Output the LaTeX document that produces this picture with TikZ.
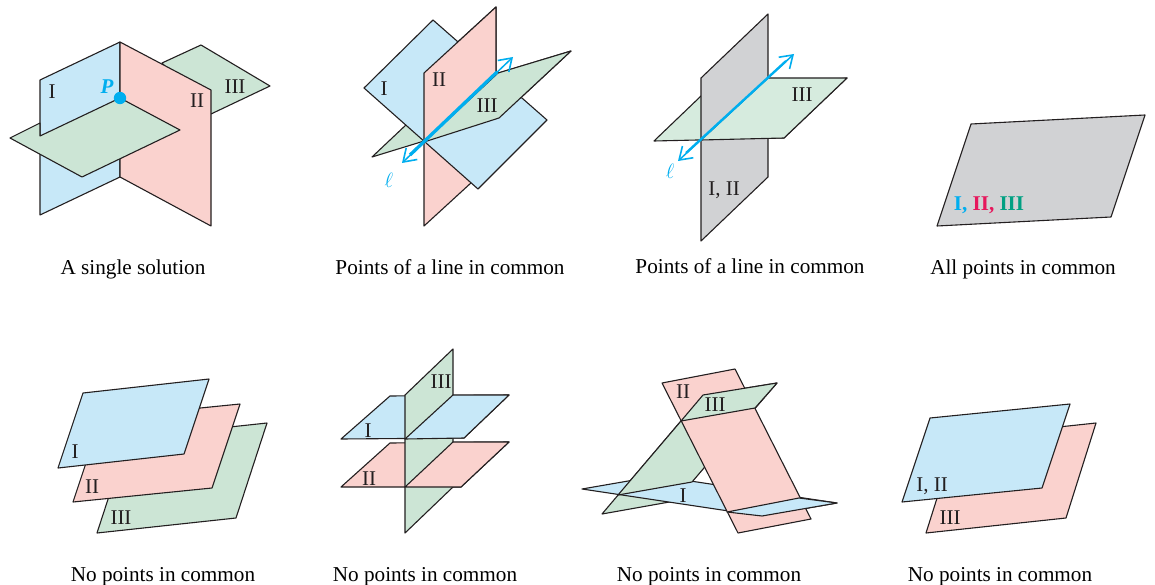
\documentclass[tikz,border=0pt]{standalone}
\usepackage{fontspec}
\setmainfont{Liberation Serif}
\usetikzlibrary{arrows.meta}
\definecolor{pblue}{HTML}{C7E8F8}
\definecolor{pred}{HTML}{FAD2CE}
\definecolor{pgreen}{HTML}{CCE5D5}
\definecolor{plgreen}{HTML}{D6EBDE}
\definecolor{pgray}{HTML}{D1D2D4}
\definecolor{pcyan}{HTML}{00AEEF}
\definecolor{pmag}{HTML}{E6175C}
\definecolor{pteal}{HTML}{00A082}
\definecolor{ink}{HTML}{231F20}
\tikzset{
  plane/.style={draw=ink,line width=1.1pt,line join=round},
  lab/.style={text=ink,font=\fontsize{21}{23}\selectfont,inner sep=0pt},
  captext/.style={text=black,font=\fontsize{21.2}{23}\selectfont,inner sep=0pt},
  elltext/.style={text=pcyan,font=\fontsize{21}{23}\selectfont,inner sep=0pt},
  barbs/.style={draw=pcyan,line width=1.5pt,{Straight Barb[length=12pt,width=16pt,line width=1.6pt]}-{Straight Barb[length=12pt,width=16pt,line width=1.6pt]}},
  thickl/.style={draw=pcyan,line width=3.3pt},
  thickm/.style={draw=pcyan,line width=2.3pt}
}
\begin{document}
\begin{tikzpicture}[x=1pt,y=-1pt]
\useasboundingbox (0,0) rectangle (1155,585);
\fill[white] (0,0) rectangle (1155,585);
% --- top 1
\filldraw[plane,fill=pgreen] (162,63)--(201,45)--(270,86)--(211,114)--cycle;
\filldraw[plane,fill=pblue] (40,80)--(120,42)--(120,177)--(40,215)--cycle;
\filldraw[plane,fill=pred] (120,42)--(211,90)--(211,226)--(120,177)--cycle;
\filldraw[plane,fill=pgreen] (10,138)--(40,123)--(40,136)--(120,98)--(180,130)--(82,177)--cycle;
\fill[pcyan] (120,98) circle (6.2);
\node[lab] (t1a) at (52,92) {I};
\node[lab] (t1b) at (197,101) {II};
\node[lab] (t1c) at (235,87) {III};
\node[text=pcyan,font=\fontsize{21}{23}\selectfont\bfseries\itshape,inner sep=0pt] (t1p) at (107,87) {P};
\node[captext] (c1) at (133,269) {A single solution};
% --- top 2
\filldraw[plane,fill=pgreen] (571,51)--(499,118)--(372,157)--(443,90)--cycle;
\filldraw[plane,fill=pred] (496,7)--(424,73)--(424,226)--(496,160)--cycle;
\filldraw[plane,fill=pblue] (433,20)--(364,88)--(478,189)--(547,120)--cycle;
\filldraw[plane,fill=pred] (496,7)--(424,73)--(424,142)--(496,73)--cycle;
\filldraw[plane,fill=pgreen] (424,142)--(499,118)--(571,51)--(498,73)--cycle;
\coordinate (l2a) at (402,163);
\coordinate (l2b) at (513,57);
\coordinate (l2c) at (410,155);
\coordinate (l2d) at (497,72);
\draw[barbs] (l2a)--(l2b);
\draw[thickl] (l2c)--(l2d);
\node[lab] (t2a) at (384,89) {I};
\node[lab] (t2b) at (439,80) {II};
\node[lab] (t2c) at (487,106) {III};
\node[elltext] (t2l) at (389,180) {$\ell$};
\node[captext] (c2) at (450,267) {Points of a line in common};
% --- top 3
\filldraw[plane,fill=plgreen] (654,141)--(701,96)--(847,78)--(784,138)--cycle;
\filldraw[plane,fill=pgray] (768,14)--(701,78)--(701,241)--(768,177)--cycle;
\filldraw[plane,fill=plgreen] (701,140)--(768,78)--(847,78)--(784,138)--cycle;
\coordinate (l3a) at (678,161);
\coordinate (l3b) at (794,54);
\coordinate (l3c) at (686,153);
\coordinate (l3d) at (786,61);
\draw[barbs] (l3a)--(l3b);
\draw[thickm] (l3c)--(l3d);
\node[lab] (t3a) at (802,95) {III};
\node[lab] (t3b) at (724,190) {I, II};
\node[elltext] (t3l) at (670,171) {$\ell$};
\node[captext] (c3) at (750,266) {Points of a line in common};
% --- top 4
\filldraw[plane,fill=pgray] (971,124)--(1145,115)--(1111,217)--(937,226)--cycle;
\node[inner sep=0pt,font=\fontsize{21}{23}\selectfont\bfseries] (t4) at (989,205) {\textcolor{pcyan}{I,} \textcolor{pmag}{II,} \textcolor{pteal}{III}};
\node[captext] (c4) at (1023,269) {All points in common};
% --- bottom 1
\filldraw[plane,fill=pgreen] (128,438)--(267,423)--(236,518)--(97,533)--cycle;
\filldraw[plane,fill=pred] (101,418)--(240,404)--(212,488)--(73,502)--cycle;
\filldraw[plane,fill=pblue] (83,393)--(209,379)--(184,454)--(58,468)--cycle;
\node[lab] (b1a) at (75,452) {I};
\node[lab] (b1b) at (92,487) {II};
\node[lab] (b1c) at (121,518) {III};
\node[captext] (d1) at (163,577) {No points in common};
% --- bottom 2
\filldraw[plane,fill=pblue] (390,396)--(341,439)--(464,438)--(509,395)--cycle;
\filldraw[plane,fill=pred] (390,443)--(341,487)--(461,487)--(509,442)--cycle;
\filldraw[plane,fill=pgreen] (453,349)--(405,395)--(405,533)--(453,487)--cycle;
\filldraw[plane,fill=pblue] (405,439)--(453,395)--(509,395)--(464,438)--cycle;
\filldraw[plane,fill=pred] (405,487)--(453,442)--(509,442)--(461,487)--cycle;
\node[lab] (b2a) at (368,431) {I};
\node[lab] (b2b) at (369,479) {II};
\node[lab] (b2c) at (441,382) {III};
\node[captext] (d2) at (425,577) {No points in common};
% --- bottom 3
\filldraw[plane,fill=pgreen] (703,395)--(777,383)--(675,501)--(602,514)--cycle;
\filldraw[plane,fill=pblue] (582,489)--(762,516)--(837,503)--(657,476)--cycle;
\filldraw[plane,fill=pgreen] (681,421)--(618,495)--(692,482)--(755,408)--cycle;
\filldraw[plane,fill=pred] (662,383)--(735,369)--(811,519)--(738,533)--cycle;
\filldraw[plane,fill=pblue] (727,512)--(762,516)--(837,503)--(799,498)--cycle;
\filldraw[plane,fill=pgreen] (703,395)--(777,383)--(755,408)--(681,421)--cycle;
\node[lab] (b3a) at (683,496) {I};
\node[lab] (b3b) at (683,392) {II};
\node[lab] (b3c) at (715,405) {III};
\node[captext] (d3) at (709,577) {No points in common};
% --- bottom 4
\filldraw[plane,fill=pred] (956,438)--(1096,423)--(1066,518)--(926,533)--cycle;
\filldraw[plane,fill=pblue] (930,418)--(1070,404)--(1042,488)--(902,502)--cycle;
\node[lab] (b4a) at (932,486) {I, II};
\node[lab] (b4b) at (950,518) {III};
\node[captext] (d4) at (1000,577) {No points in common};
\end{tikzpicture}
\end{document}
